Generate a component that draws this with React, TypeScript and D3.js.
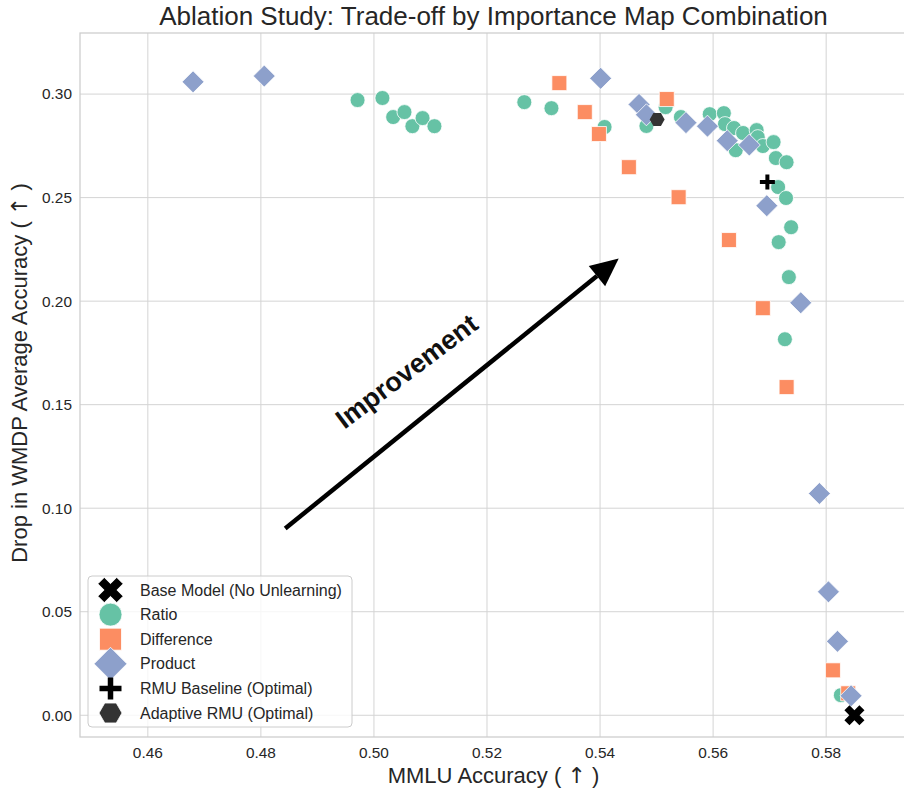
import React, { useRef, useEffect } from "react";
import * as d3 from "d3";

const width = 904;
const height = 792;
// the axes run a little past the right edge of the picture
const margin = { top: 33, right: -3, bottom: 55, left: 80 };

// values
const ratioMmlu = [0.4971, 0.5015, 0.5034, 0.5054, 0.5068, 0.5086, 0.5107, 0.5266, 0.5314, 0.5408, 0.5482, 0.5516, 0.5543, 0.5594, 0.5619, 0.5621, 0.5637, 0.564, 0.5653, 0.5677, 0.5679, 0.5688, 0.5707, 0.5711, 0.573, 0.5715, 0.5729, 0.5738, 0.5716, 0.5734, 0.5727, 0.5826];
const ratioDrop = [0.2971, 0.2981, 0.2889, 0.2913, 0.2845, 0.2884, 0.2845, 0.2961, 0.2932, 0.2841, 0.2846, 0.2937, 0.2889, 0.2903, 0.2908, 0.2855, 0.2836, 0.2729, 0.2812, 0.2826, 0.2792, 0.2749, 0.2768, 0.2691, 0.2671, 0.2551, 0.2498, 0.2357, 0.2285, 0.2116, 0.1816, 0.0097];

const diffMmlu = [0.5328, 0.5373, 0.5398, 0.5451, 0.5518, 0.5539, 0.5628, 0.5688, 0.573, 0.5812, 0.5839];
const diffDrop = [0.3053, 0.2913, 0.2807, 0.2647, 0.2976, 0.2502, 0.2295, 0.1966, 0.1585, 0.0217, 0.0106];

const productMmlu = [0.468, 0.4806, 0.5401, 0.5469, 0.5482, 0.5552, 0.559, 0.5625, 0.5664, 0.5695, 0.5755, 0.5788, 0.5804, 0.582, 0.5844];
const productDrop = [0.3059, 0.3087, 0.3076, 0.295, 0.29, 0.2862, 0.2845, 0.2775, 0.2754, 0.2461, 0.1992, 0.1071, 0.0596, 0.0357, 0.0094];

const basePoint = [0.585, 0.0];
const rmuPoint = [0.5696, 0.2576];
const adaptivePoint = [0.5501, 0.2877];

const arrowFrom = [0.4843, 0.0902];
const arrowTo = [0.5433, 0.2206];
const arrowTextAt = [0.5058, 0.166];

const xTicks = [0.46, 0.48, 0.5, 0.52, 0.54, 0.56, 0.58];
const yTicks = [0, 0.05, 0.1, 0.15, 0.2, 0.25, 0.3];

const legendLabels = [
  "Base Model (No Unlearning)",
  "Ratio",
  "Difference",
  "Product",
  "RMU Baseline (Optimal)",
  "Adaptive RMU (Optimal)",
];

const GREEN = "#66c2a5";
const ORANGE = "#fc8d62";
const BLUE = "#8da0cb";
const FONT = "'Liberation Sans', Arial, sans-serif";
const TEXT = "#262626";

// marker shapes
const xMarker = (L, t) => {
  const pts = [[t, t], [L, t], [L, -t], [t, -t], [t, -L], [-t, -L], [-t, -t], [-L, -t], [-L, t], [-t, t], [-t, L], [t, L]];
  const c = Math.SQRT1_2;
  return "M" + pts.map(([a, b]) => `${(a - b) * c},${(a + b) * c}`).join("L") + "Z";
};
const diamond = (h) => `M0,${-h}L${h},0L0,${h}L${-h},0Z`;
const square = (s) => `M${-s / 2},${-s / 2}h${s}v${s}h${-s}Z`;
const hexagon = (r) =>
  "M" + d3.range(6).map((i) => `${r * Math.cos((i * Math.PI) / 3)},${r * Math.sin((i * Math.PI) / 3)}`).join("L") + "Z";
const plus = (a) => `M${-a},0H${a}M0,${-a}V${a}`;

// label with the up arrow drawn in DejaVu, like matplotlib's glyph fallback
const arrowLabel = (sel, label) => {
  sel.append("tspan").text(label + " ( ");
  sel.append("tspan").attr("font-family", "'DejaVu Sans'").text("\u2191");
  sel.append("tspan").text(" )");
};

const App = () => {
  const svgRef = useRef();

  useEffect(() => {
    const svg = d3.select(svgRef.current);
    svg.selectAll("*").remove();

    const x = d3.scaleLinear().domain([0.448, 0.5943]).range([margin.left, width - margin.right]);
    const y = d3.scaleLinear().domain([-0.0105, 0.3295]).range([height - margin.bottom, margin.top]);
    const [x0, x1] = x.range();
    const [y0, y1] = y.range();

    //grid
    const grid = svg.append("g");
    grid.selectAll(".gx").data(xTicks).enter().append("line")
      .attr("x1", (d) => x(d)).attr("x2", (d) => x(d))
      .attr("y1", y1).attr("y2", y0)
      .attr("stroke", "#d4d4d4").attr("stroke-width", 1);
    grid.selectAll(".gy").data(yTicks).enter().append("line")
      .attr("x1", x0).attr("x2", x1)
      .attr("y1", (d) => y(d)).attr("y2", (d) => y(d))
      .attr("stroke", "#d4d4d4").attr("stroke-width", 1);

    //frame
    svg.append("rect")
      .attr("x", x0).attr("y", y1)
      .attr("width", x1 - x0).attr("height", y0 - y1)
      .attr("fill", "none").attr("stroke", "#cccccc").attr("stroke-width", 1.25);

    //tick labels
    svg.append("g").selectAll("text").data(xTicks).enter().append("text")
      .attr("x", (d) => x(d)).attr("y", y0 + 21)
      .attr("text-anchor", "middle")
      .attr("font-size", 15.4).attr("fill", TEXT)
      .text((d) => d3.format(".2f")(d));
    svg.append("g").selectAll("text").data(yTicks).enter().append("text")
      .attr("x", x0 - 8).attr("y", (d) => y(d)).attr("dy", "0.35em")
      .attr("text-anchor", "end")
      .attr("font-size", 15.4).attr("fill", TEXT)
      .text((d) => d3.format(".2f")(d));

    //axis labels + title
    svg.append("text")
      .attr("x", (x0 + x1) / 2).attr("y", 783)
      .attr("text-anchor", "middle").attr("font-size", 22).attr("fill", TEXT)
      .call(arrowLabel, "MMLU Accuracy");
    svg.append("text")
      .attr("transform", `translate(27,${(y0 + y1) / 2 - 12}) rotate(-90)`)
      .attr("text-anchor", "middle").attr("font-size", 22).attr("fill", TEXT)
      .call(arrowLabel, "Drop in WMDP Average Accuracy");
    svg.append("text")
      .attr("x", (x0 + x1) / 2).attr("y", 25)
      .attr("text-anchor", "middle").attr("font-size", 26).attr("fill", TEXT)
      .text("Ablation Study: Trade-off by Importance Map Combination");

    //arrow
    const ax0 = x(arrowFrom[0]), ay0 = y(arrowFrom[1]);
    const ax1 = x(arrowTo[0]), ay1 = y(arrowTo[1]);
    const ang = Math.atan2(ay1 - ay0, ax1 - ax0);
    const headLen = 28, headHalf = 13;
    const bx = ax1 - headLen * Math.cos(ang), by = ay1 - headLen * Math.sin(ang);
    const nx = -Math.sin(ang), ny = Math.cos(ang);
    svg.append("line")
      .attr("x1", ax0).attr("y1", ay0).attr("x2", bx).attr("y2", by)
      .attr("stroke", "black").attr("stroke-width", 4.5);
    svg.append("path")
      .attr("d", `M${ax1},${ay1}L${bx + nx * headHalf},${by + ny * headHalf}L${bx - nx * headHalf},${by - ny * headHalf}Z`)
      .attr("fill", "black");
    svg.append("text")
      .attr("transform", `translate(${x(arrowTextAt[0])},${y(arrowTextAt[1])}) rotate(-37)`)
      .attr("text-anchor", "middle").attr("dominant-baseline", "central")
      .attr("font-size", 27).attr("font-weight", "bold").attr("fill", "#111")
      .text("Improvement");

    //points
    const pts = svg.append("g");
    pts.selectAll(".ratio").data(ratioMmlu).enter().append("circle")
      .attr("cx", (d) => x(d)).attr("cy", (d, i) => y(ratioDrop[i]))
      .attr("r", 7.5).attr("fill", GREEN).attr("stroke", "white").attr("stroke-width", 0.8);
    pts.selectAll(".diff").data(diffMmlu).enter().append("path")
      .attr("d", square(15))
      .attr("transform", (d, i) => `translate(${x(d)},${y(diffDrop[i])})`)
      .attr("fill", ORANGE).attr("stroke", "white").attr("stroke-width", 0.8);
    pts.selectAll(".prod").data(productMmlu).enter().append("path")
      .attr("d", diamond(11))
      .attr("transform", (d, i) => `translate(${x(d)},${y(productDrop[i])})`)
      .attr("fill", BLUE).attr("stroke", "white").attr("stroke-width", 0.8);
    pts.append("path").attr("d", xMarker(10.6, 3.6))
      .attr("transform", `translate(${x(basePoint[0])},${y(basePoint[1])})`)
      .attr("fill", "black");
    pts.append("path").attr("d", plus(7.5))
      .attr("transform", `translate(${x(rmuPoint[0])},${y(rmuPoint[1])})`)
      .attr("stroke", "black").attr("stroke-width", 4).attr("fill", "none");
    pts.append("path").attr("d", hexagon(7.5))
      .attr("transform", `translate(${x(adaptivePoint[0])},${y(adaptivePoint[1])})`)
      .attr("fill", "#333333");

    //legend
    const lg = svg.append("g").attr("transform", "translate(88,576)");
    lg.append("rect").attr("width", 264).attr("height", 151).attr("rx", 4)
      .attr("fill", "white").attr("fill-opacity", 0.8)
      .attr("stroke", "#cccccc").attr("stroke-width", 1);
    const legendMarks = [
      { d: xMarker(13.3, 4.5), fill: "black" },
      { d: d3.symbol(d3.symbolCircle, Math.PI * 11.5 * 11.5)(), fill: GREEN },
      { d: square(22), fill: ORANGE },
      { d: diamond(16.5), fill: BLUE },
      { d: plus(11), stroke: "black" },
      { d: hexagon(11.5), fill: "#333333" },
    ];
    const rows = lg.selectAll(".row").data(legendLabels).enter().append("g")
      .attr("transform", (d, i) => `translate(0,${14 + i * 24.6})`);
    rows.append("path")
      .attr("d", (d, i) => legendMarks[i].d)
      .attr("transform", "translate(22.5,0)")
      .attr("fill", (d, i) => legendMarks[i].fill || "none")
      .attr("stroke", (d, i) => legendMarks[i].stroke || "white")
      .attr("stroke-width", (d, i) => (legendMarks[i].stroke ? 5.5 : 0.8));
    rows.append("text")
      .attr("x", 52).attr("dy", "0.35em")
      .attr("font-size", 16).attr("fill", TEXT)
      .text((d) => d);
  }, []);

  return (
    <svg
      ref={svgRef}
      width={width}
      height={height}
      style={{ position: "absolute", left: 0, top: 0, background: "white", fontFamily: FONT }}
    ></svg>
  );
};

export default App;
